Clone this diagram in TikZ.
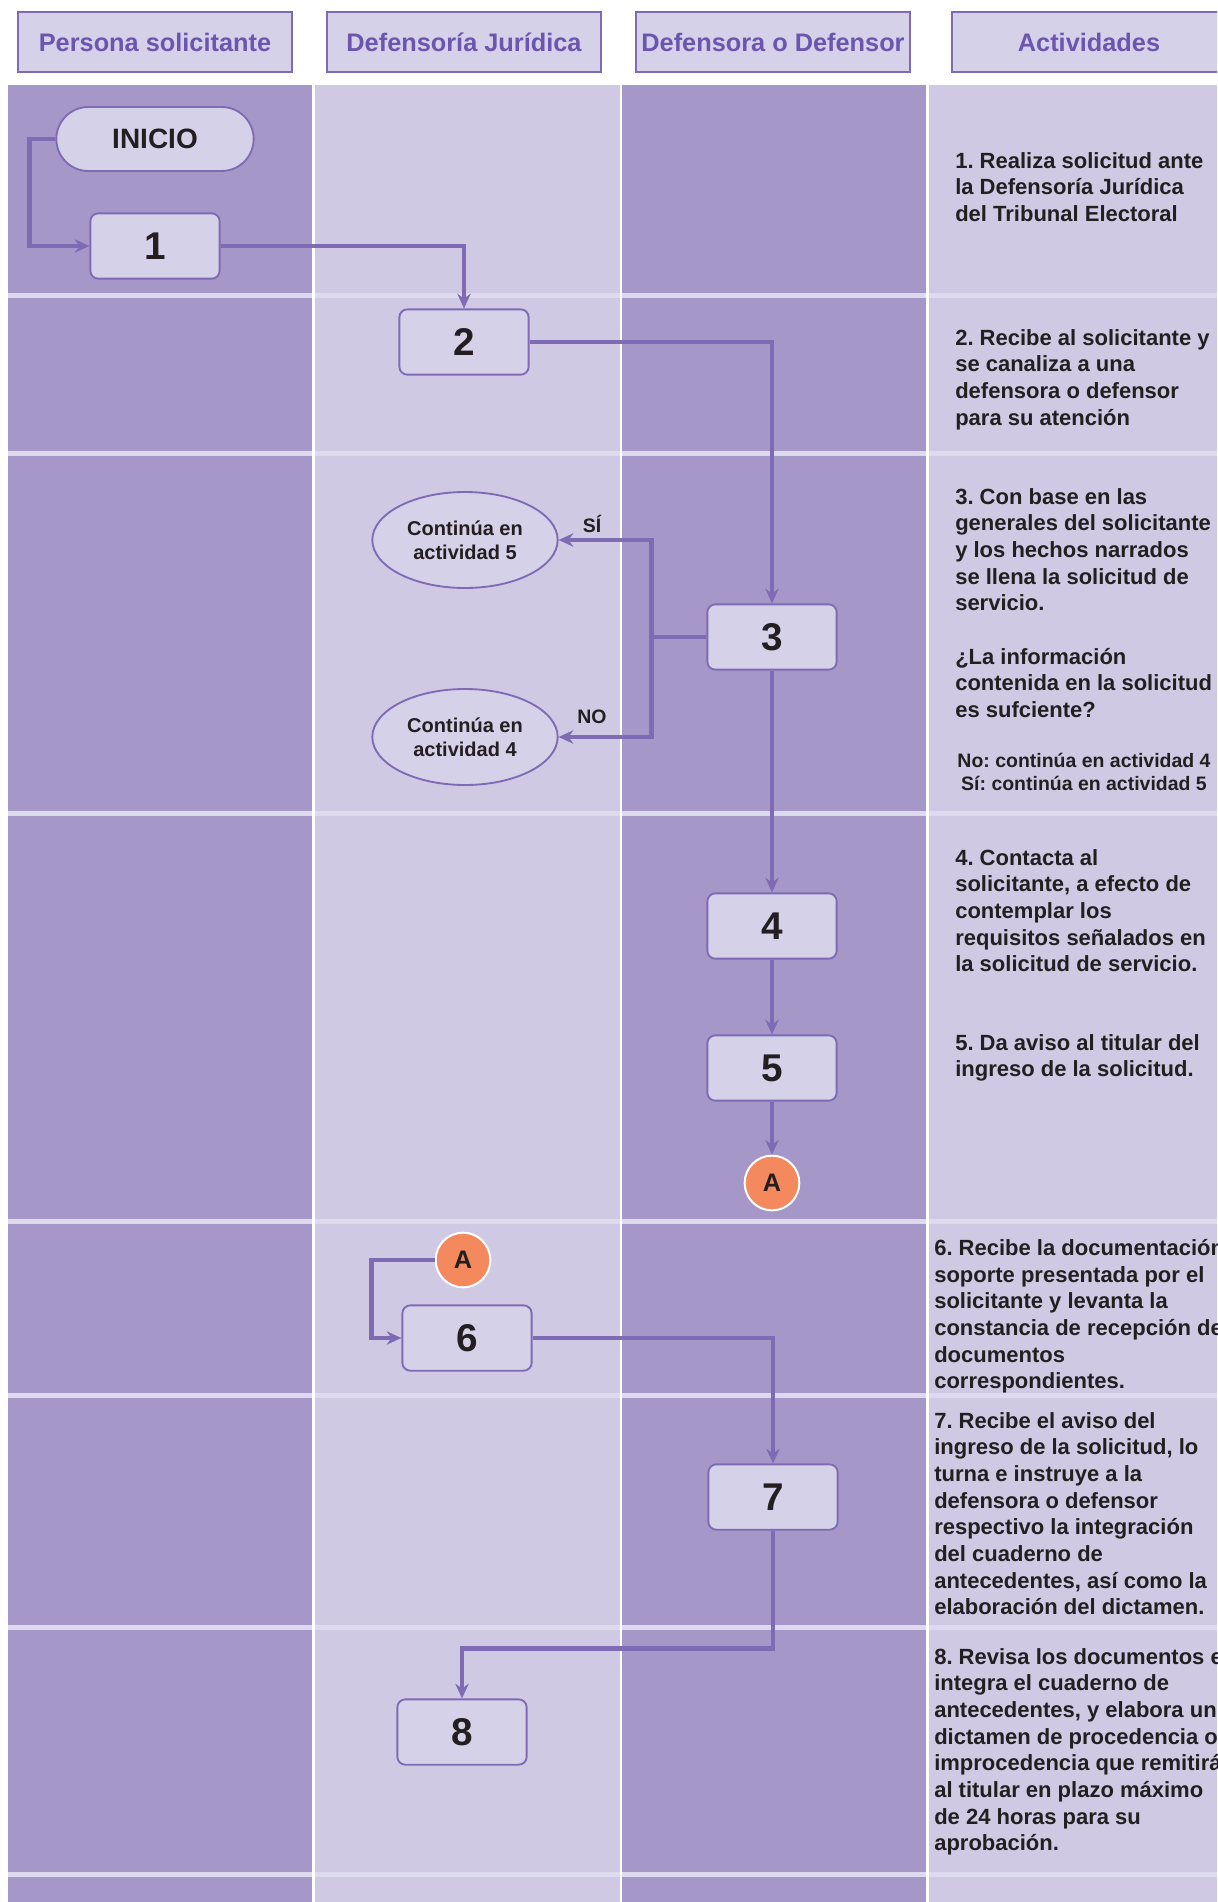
\documentclass[tikz,border=0pt]{standalone}
\usepackage{fontspec}
\setmainfont{Liberation Sans}
\usetikzlibrary{arrows.meta,shapes.misc,shapes.geometric}
\definecolor{lanedark}{RGB}{165,152,201}
\definecolor{lanelight}{RGB}{207,201,227}
\definecolor{rowline}{RGB}{222,218,238}
\definecolor{boxfill}{RGB}{213,209,233}
\definecolor{flowline}{RGB}{126,107,180}
\definecolor{headtext}{RGB}{107,85,175}
\definecolor{orangeA}{RGB}{244,137,94}
\definecolor{darktext}{RGB}{35,31,32}
\frenchspacing

\begin{document}
\begin{tikzpicture}[x=0.75pt,y=0.75pt,yscale=-1,xscale=1,
  head/.style={draw=flowline,line width=1.6pt,fill=boxfill,minimum width=206pt,minimum height=45pt,inner sep=0pt,text=headtext,font=\fontsize{19}{22}\selectfont\bfseries},
  stepbox/.style={draw=flowline,line width=1.4pt,fill=boxfill,rounded corners=6pt,minimum width=97pt,minimum height=49pt,inner sep=0pt,text=darktext,font=\fontsize{29}{32}\selectfont\bfseries},
  startbox/.style={rounded rectangle,draw=flowline,line width=1.4pt,fill=boxfill,minimum width=148pt,minimum height=48pt,inner sep=0pt,text=darktext,font=\fontsize{21}{24}\selectfont\bfseries},
  goto/.style={ellipse,draw=flowline,line width=1.4pt,fill=boxfill,minimum width=139pt,minimum height=72pt,inner sep=0pt,align=center,text=darktext,font=\fontsize{15}{18}\selectfont\bfseries},
  conn/.style={circle,draw=white,line width=1.5pt,fill=orangeA,minimum size=41pt,inner sep=0pt,text=darktext,font=\fontsize{19}{22}\selectfont\bfseries},
  flow/.style={draw=flowline,line width=3.4pt,-{Stealth[length=11pt,width=10pt]}},
  activ/.style={anchor=north west,inner sep=0pt,align=left,text=darktext,font=\fontsize{16.5}{20}\selectfont\bfseries},
  answer/.style={inner sep=0pt,text=darktext,font=\fontsize{14.6}{17}\selectfont\bfseries}
]
\path[use as bounding box,clip] (0,0) rectangle (1217,1902);
\fill[white] (0,0) rectangle (1217,1902);

%Shape: lanes
\foreach \xa/\xb/\col in {8/312/lanedark,315/620/lanelight,622/926/lanedark,929/1217/lanelight}
  \fill[\col] (\xa,85) rectangle (\xb,1902);
%Shape: row separators
\foreach \yy in {293,451,811,1219,1393,1625,1872}
  \foreach \xa/\xb in {8/312,315/620,622/926,929/1217}
    \fill[rowline] (\xa,\yy) rectangle (\xb,\yy+5);

% Header Nodes
\node[head] (hsol) at (155,42) {Persona solicitante};
\node[head] (hdef) at (464,42) {Defensoría Jurídica};
\node[head] (hdfr) at (773,42) {Defensora o Defensor};
\node[head] (hact) at (1089,42) {Actividades};

% Flow Nodes
\node[startbox] (inicio) at (155,139) {INICIO};
\node[stepbox] (b1) at (155,246) {1};
\node[stepbox] (b2) at (464,342) {2};
\node[stepbox] (b3) at (772,637) {3};
\node[goto] (e5) at (465,540) {Continúa en\\actividad 5};
\node[goto] (e4) at (465,737) {Continúa en\\actividad 4};
\node[stepbox] (b4) at (772,926) {4};
\node[stepbox] (b5) at (772,1068) {5};
\node[conn] (a1) at (772,1183) {A};
\node[conn] (a2) at (463,1260) {A};
\node[stepbox] (b6) at (467,1338) {6};
\node[stepbox] (b7) at (773,1497) {7};
\node[stepbox] (b8) at (462,1732) {8};

% Text Node
\node[answer] (lsi) at (592,524) {SÍ};
% Text Node
\node[answer] (lno) at (592,717) {NO};

% Connectors
\draw[flow] (inicio.west) -- ++(-26,0) |- (b1.west);
\draw[flow] (b1.east) -| (b2.north);
\draw[flow] (b2.east) -| (b3.north);
\draw[draw=flowline,line width=3.4pt] (b3.west) -- ++(-55,0) coordinate (fork);
\draw[flow] (fork) |- (e5.east);
\draw[flow] (fork) |- (e4.east);
\draw[flow] (b3.south) -- (b4.north);
\draw[flow] (b4.south) -- (b5.north);
\draw[flow] (b5.south) -- (a1.north);
\draw[flow] (a2.west) -- ++(-63,0) |- (b6.west);
\draw[flow] (b6.east) -| (b7.north);
\draw[flow] (b7.south) -- ++(0,118) -| (b8.north);

% Text Node
\node[activ] (t1) at (955,152) {1. Realiza solicitud ante\\la Defensoría Jurídica\\del Tribunal Electoral};
% Text Node
\node[activ] (t2) at (955,329) {2. Recibe al solicitante y\\se canaliza a una\\defensora o defensor\\para su atención};
% Text Node
\node[activ] (t3) at (955,488) {3. Con base en las\\generales del solicitante\\y los hechos narrados\\se llena la solicitud de\\servicio.\\[20pt]¿La información\\contenida en la solicitud\\es sufciente?};
% Text Node
\node[answer,align=center] (t3b) at (1084,772) {No: continúa en actividad 4\\Sí: continúa en actividad 5};
% Text Node
\node[activ] (t4) at (955,849) {4. Contacta al\\solicitante, a efecto de\\contemplar los\\requisitos señalados en\\la solicitud de servicio.};
% Text Node
\node[activ] (t5) at (955,1034) {5. Da aviso al titular del\\ingreso de la solicitud.};
% Text Node
\node[activ] (t6) at (934,1239) {6. Recibe la documentación\\soporte presentada por el\\solicitante y levanta la\\constancia de recepción de\\documentos\\correspondientes.};
% Text Node
\node[activ] (t7) at (934,1412) {7. Recibe el aviso del\\ingreso de la solicitud, lo\\turna e instruye a la\\defensora o defensor\\respectivo la integración\\del cuaderno de\\antecedentes, así como la\\elaboración del dictamen.};
% Text Node
\node[activ] (t8) at (934,1648) {8. Revisa los documentos e\\integra el cuaderno de\\antecedentes, y elabora un\\dictamen de procedencia o\\improcedencia que remitirá\\al titular en plazo máximo\\de 24 horas para su\\aprobación.};

\end{tikzpicture}
\end{document}
